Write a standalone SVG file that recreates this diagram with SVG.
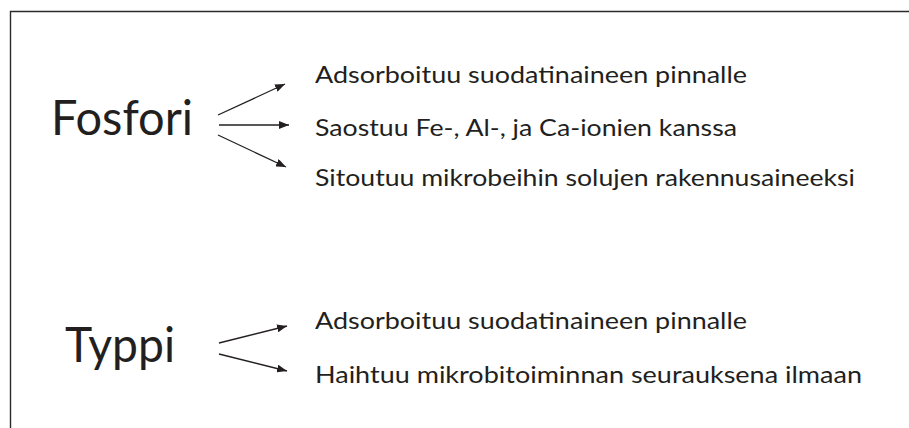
<svg xmlns="http://www.w3.org/2000/svg" width="909" height="428" viewBox="0 0 909 428">
  <style>
    .frame { fill: none; stroke: #2b2b2b; stroke-width: 1.4; }
    .edge { fill: none; stroke: #231f20; stroke-width: 1.3; marker-end: url(#tip); }
    .title { font-family: Lato, "Open Sans", sans-serif; font-size: 48px; fill: #231f20; }
    .item { font-family: Lato, "Open Sans", sans-serif; font-size: 24px; fill: #231f20; }
  </style>
  <defs>
    <marker id="tip" viewBox="0 0 10 8" refX="10" refY="4" markerWidth="10" markerHeight="8" markerUnits="userSpaceOnUse" orient="auto">
      <path d="M0,0 L10,4 L0,8 Z" fill="#231f20"/>
    </marker>
  </defs>
  <rect width="909" height="428" fill="#ffffff"/>

  <!-- outer frame: left and top edges only -->
  <g id="frame">
    <path class="frame" d="M10.5,428 V11.5 H909"/>
  </g>

  <!-- phosphorus node -->
  <g id="fosfori">
    <text class="title" x="51" y="135" textLength="142" lengthAdjust="spacingAndGlyphs">Fosfori</text>
  </g>
  <g id="fosfori-adsorb">
    <text class="item" x="315" y="83" textLength="432" lengthAdjust="spacingAndGlyphs">Adsorboituu suodatinaineen pinnalle</text>
  </g>
  <g id="fosfori-saostuu">
    <text class="item" x="315" y="136" textLength="422" lengthAdjust="spacingAndGlyphs">Saostuu Fe-, Al-, ja Ca-ionien kanssa</text>
  </g>
  <g id="fosfori-sitoutuu">
    <text class="item" x="315" y="186" textLength="540" lengthAdjust="spacingAndGlyphs">Sitoutuu mikrobeihin solujen rakennusaineeksi</text>
  </g>

  <!-- nitrogen node -->
  <g id="typpi">
    <text class="title" x="65" y="362" textLength="110" lengthAdjust="spacingAndGlyphs">Typpi</text>
  </g>
  <g id="typpi-adsorb">
    <text class="item" x="315" y="329" textLength="432" lengthAdjust="spacingAndGlyphs">Adsorboituu suodatinaineen pinnalle</text>
  </g>
  <g id="typpi-haihtuu">
    <text class="item" x="315" y="383" textLength="547" lengthAdjust="spacingAndGlyphs">Haihtuu mikrobitoiminnan seurauksena ilmaan</text>
  </g>

  <!-- connectors -->
  <g id="connectors">
    <line class="edge" x1="218" y1="115" x2="285" y2="84"/>
    <line class="edge" x1="219" y1="125" x2="289" y2="125"/>
    <line class="edge" x1="218" y1="135" x2="286" y2="167"/>
    <line class="edge" x1="219" y1="343" x2="287" y2="326"/>
    <line class="edge" x1="219" y1="354" x2="287" y2="371"/>
  </g>
</svg>
